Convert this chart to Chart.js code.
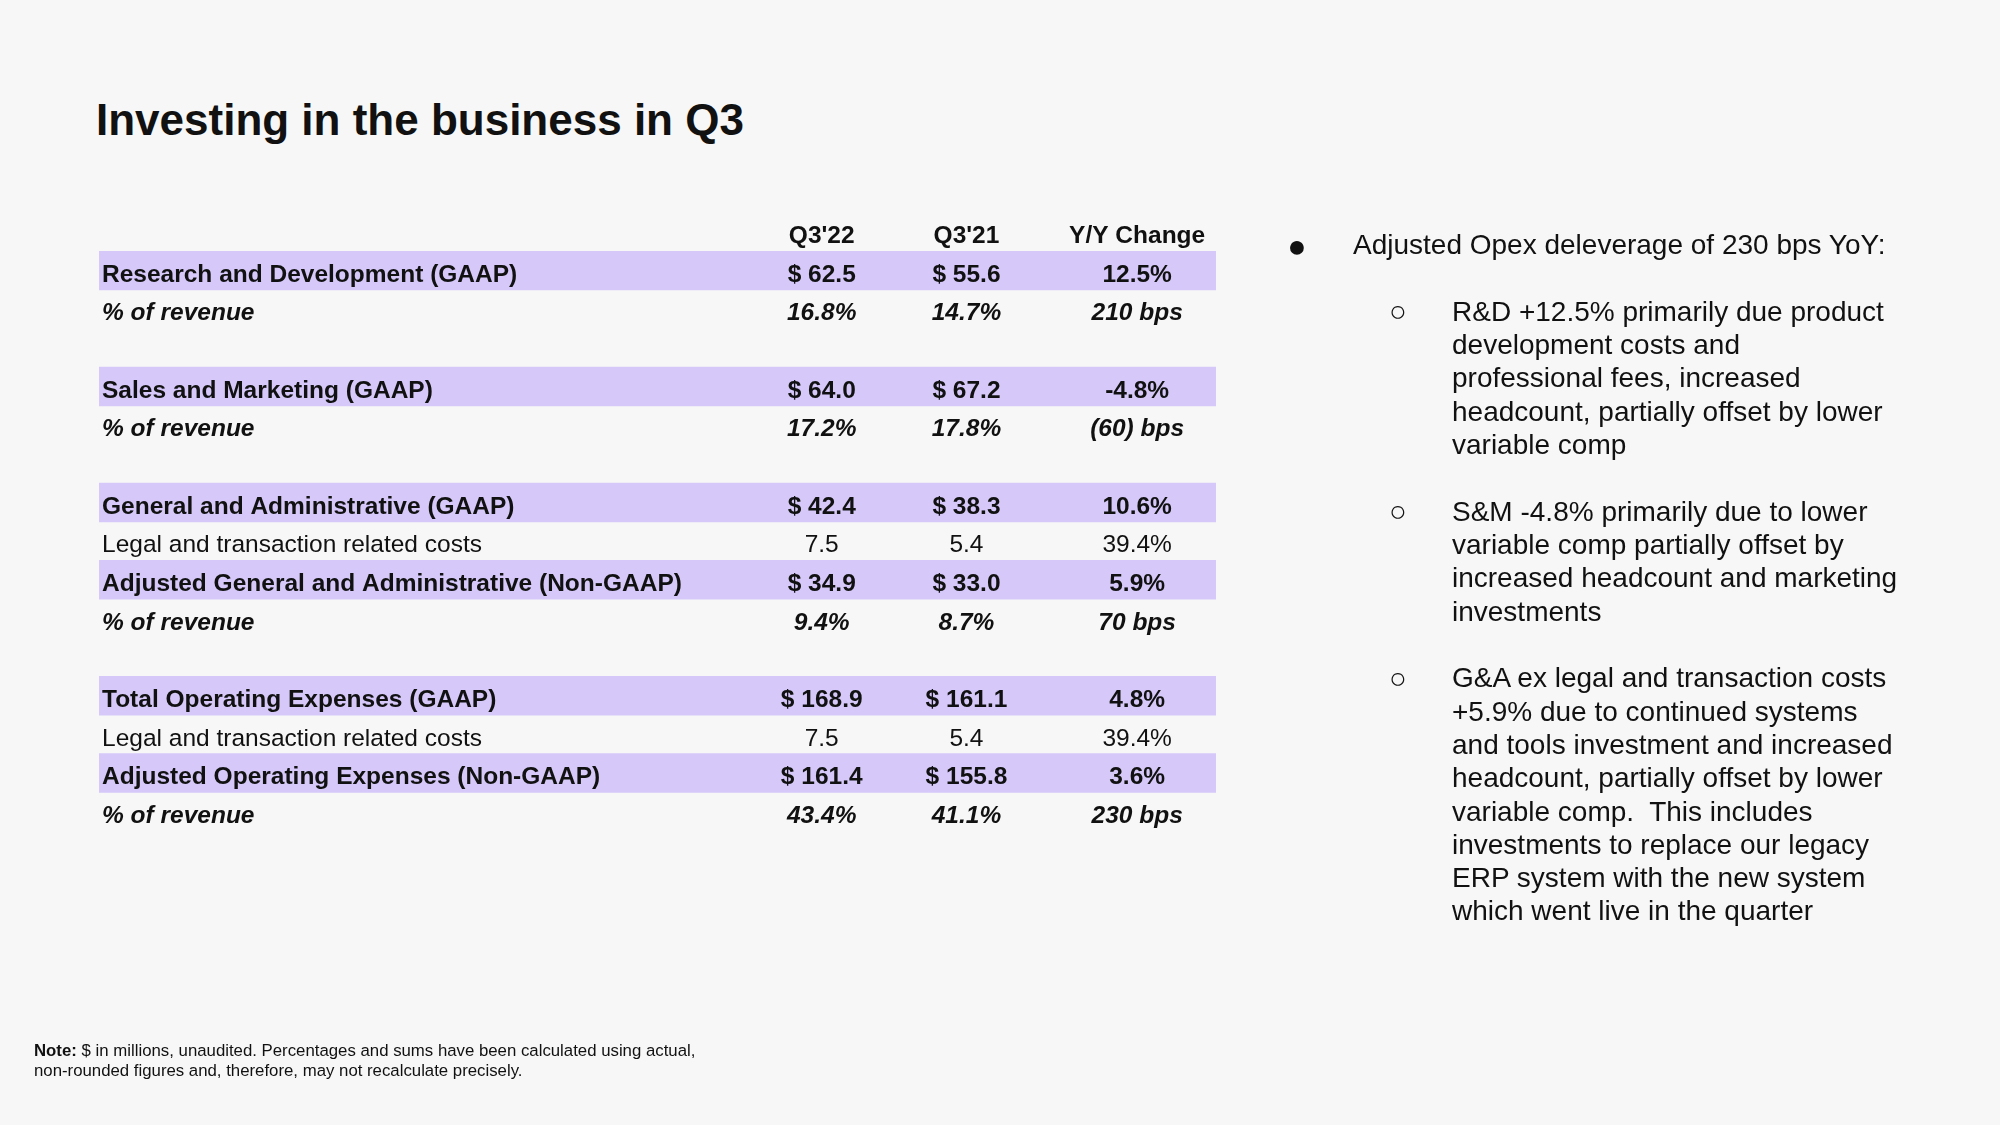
<!DOCTYPE html>
<html>
<head>
<meta charset="utf-8">
<script src="https://cdn.jsdelivr.net/npm/chart.js@4.4.1/dist/chart.umd.min.js"></script>
<style>
  html, body { margin: 0; padding: 0; background: #f7f7f7; }
  #page { position: relative; width: 2000px; height: 1125px; overflow: hidden; font-family: 'Liberation Sans', Arial, sans-serif; color: #111; }
  #opexTable { position: absolute; left: 0; top: 0; }
  .title { position: absolute; left: 96px; top: 98px; font-size: 44px; line-height: 44px; font-weight: bold; white-space: nowrap; }
  .txt { position: absolute; font-size: 28px; line-height: 33.33px; white-space: nowrap; }
  .dot { position: absolute; width: 40px; height: 40px; line-height: 40px; text-align: center; }
  .note { position: absolute; left: 34px; top: 1041px; font-size: 16.8px; line-height: 20px; white-space: nowrap; }
</style>
</head>
<body>
<div id="page">
  <div class="title">Investing in the business in Q3</div>
  <canvas id="opexTable" width="2000" height="1125"></canvas>

  <div class="dot" style="left:1277px;top:226px;font-size:32px;">●</div>
  <div class="txt" style="left:1353px;top:228px;">Adjusted Opex deleverage of 230 bps YoY:</div>

  <div class="dot" style="left:1378px;top:291px;font-size:29px;">○</div>
  <div class="txt" style="left:1452px;top:294.6px;">R&amp;D +12.5% primarily due product<br>development costs and<br>professional fees, increased<br>headcount, partially offset by lower<br>variable comp</div>

  <div class="dot" style="left:1378px;top:491px;font-size:29px;">○</div>
  <div class="txt" style="left:1452px;top:494.6px;">S&amp;M -4.8% primarily due to lower<br>variable comp partially offset by<br>increased headcount and marketing<br>investments</div>

  <div class="dot" style="left:1378px;top:658px;font-size:29px;">○</div>
  <div class="txt" style="left:1452px;top:661.2px;">G&amp;A ex legal and transaction costs<br>+5.9% due to continued systems<br>and tools investment and increased<br>headcount, partially offset by lower<br>variable comp.&nbsp; This includes<br>investments to replace our legacy<br>ERP system with the new system<br>which went live in the quarter</div>

  <div class="note"><b>Note:</b> $ in millions, unaudited. Percentages and sums have been calculated using actual,<br>non-rounded figures and, therefore, may not recalculate precisely.</div>
</div>
<script>
// table rows (top to bottom), first row holds the column headers
const columnHeaders = ["Q3'22", "Q3'21", 'Y/Y Change'];
const rowLabels = ['', 'Research and Development (GAAP)', '% of revenue', '',
  'Sales and Marketing (GAAP)', '% of revenue', '',
  'General and Administrative (GAAP)', 'Legal and transaction related costs',
  'Adjusted General and Administrative (Non-GAAP)', '% of revenue', '',
  'Total Operating Expenses (GAAP)', 'Legal and transaction related costs',
  'Adjusted Operating Expenses (Non-GAAP)', '% of revenue'];
// total = highlighted $ row, share = % of revenue, item = plain row
const rowKind = ['header', 'total', 'share', 'blank', 'total', 'share', 'blank',
  'total', 'item', 'total', 'share', 'blank', 'total', 'item', 'total', 'share'];
const q322 = [null, 62.5, 16.8, null, 64.0, 17.2, null, 42.4, 7.5, 34.9, 9.4, null, 168.9, 7.5, 161.4, 43.4];
const q321 = [null, 55.6, 14.7, null, 67.2, 17.8, null, 38.3, 5.4, 33.0, 8.7, null, 161.1, 5.4, 155.8, 41.1];
// % change for $ rows, bps for share rows
const yoyChange = [null, 12.5, 210, null, -4.8, -60, null, 10.6, 39.4, 5.9, 70, null, 4.8, 39.4, 3.6, 230];

// column centres on the 0..1 table-width axis
const colPos = [0.647, 0.7766, 0.9294];
const FONT = 'Liberation Sans';
const INK = '#111111';
const BAND = '#d6c9fa';

function fmtAmount(v, kind) {
  if (v === null) return '';
  if (kind === 'total') return '$ ' + v.toFixed(1);
  if (kind === 'share') return v.toFixed(1) + '%';
  return v.toFixed(1);
}
function fmtChange(v, kind) {
  if (v === null) return '';
  if (kind === 'share') return (v < 0 ? '(' + (-v) + ')' : v) + ' bps';
  return v.toFixed(1) + '%';
}
function rowFont(kind) {
  if (kind === 'item') return { family: FONT, size: 24.5, weight: 'normal' };
  if (kind === 'share') return { family: FONT, size: 24.5, weight: 'bold', style: 'italic' };
  return { family: FONT, size: 24.5, weight: 'bold' };
}

// writes header and number cells at the scale positions
const cellText = {
  id: 'cellText',
  afterDatasetsDraw(chart) {
    const c = chart.ctx, xs = chart.scales.x, ys = chart.scales.y;
    c.save();
    c.fillStyle = INK;
    c.textAlign = 'center';
    c.textBaseline = 'middle';
    rowKind.forEach((kind, i) => {
      const f = rowFont(kind);
      c.font = (f.style || '') + ' ' + f.weight + ' ' + f.size + 'px "' + FONT + '"';
      let cells;
      if (kind === 'header') cells = columnHeaders;
      else cells = [fmtAmount(q322[i], kind), fmtAmount(q321[i], kind), fmtChange(yoyChange[i], kind)];
      const y = ys.getPixelForValue(i) + 4.5;
      cells.forEach((t, j) => c.fillText(t, xs.getPixelForValue(colPos[j]), y));
    });
    c.restore();
  }
};

const ctx = document.getElementById('opexTable').getContext('2d');
new Chart(ctx, {
  type: 'bar',
  data: {
    labels: rowLabels,
    datasets: [{
      data: rowKind.map(k => k === 'total' ? [0, 1] : null),
      backgroundColor: BAND,
      borderWidth: 0,
      barPercentage: 1,
      categoryPercentage: 1
    }]
  },
  options: {
    indexAxis: 'y',
    responsive: false,
    animation: false,
    events: [],
    layout: { padding: { left: 93, right: 784, top: 212.6, bottom: 294 } },
    plugins: { legend: { display: false }, tooltip: { enabled: false } },
    scales: {
      x: { type: 'linear', min: 0, max: 1, display: false },
      y: {
        type: 'category',
        grid: { display: false, drawTicks: false },
        border: { display: false },
        ticks: {
          mirror: true,
          padding: 3,
          z: 1,
          autoSkip: false,
          labelOffset: 4.5,
          color: INK,
          font: (c) => rowFont(rowKind[c.index])
        }
      }
    }
  },
  plugins: [cellText]
});
</script>
</body>
</html>
